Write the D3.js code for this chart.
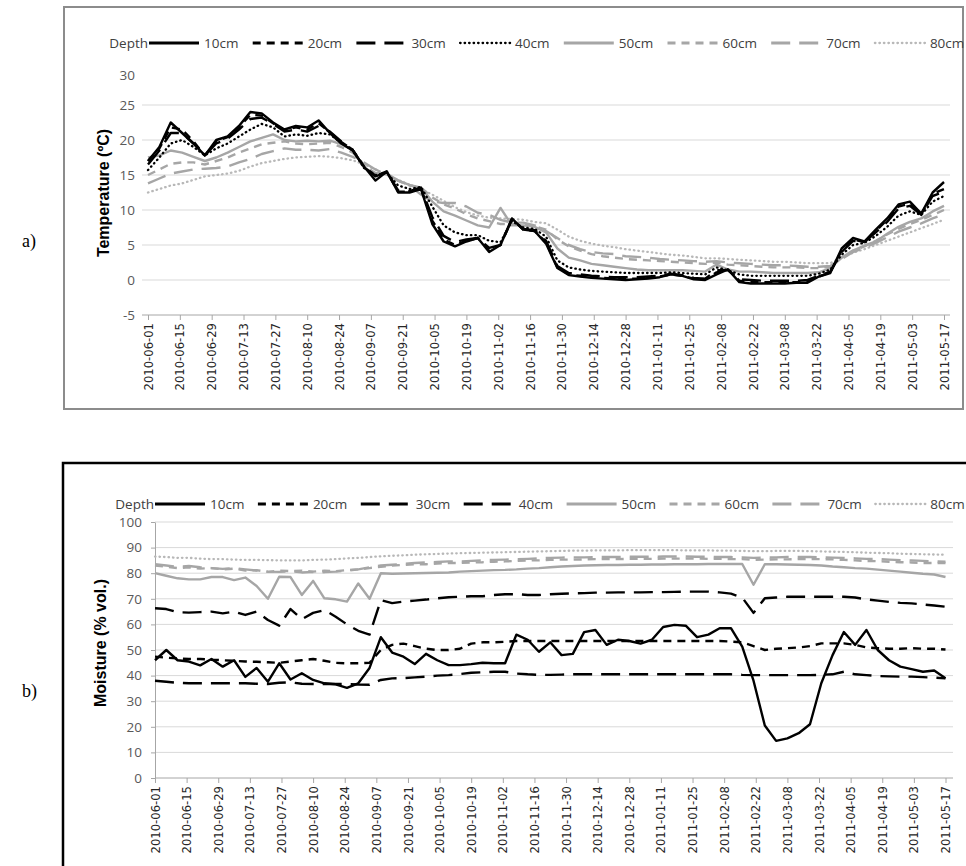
<!DOCTYPE html>
<html>
<head>
<meta charset="utf-8">
<script src="https://cdn.jsdelivr.net/npm/d3@7"></script>
<style>
  body { margin: 0; background: #fff; }
  svg text { font-family: "Open Sans", sans-serif; }
</style>
</head>
<body>
<svg id="chart" width="966" height="866"></svg>
<script>
// Soil temperature and moisture by depth, 2010-06-01 .. 2011-05-17

var parseDate = d3.utcParse("%Y-%m-%d");

// readings sampled every 5 days from 2010-06-01
var sampleStart = parseDate("2010-06-01")
  , sampleCount = 71
  , sampleDates = d3.range(sampleCount).map(function (k) { return d3.utcDay.offset(sampleStart, 5 * k); })
  ;

var depths = ["10cm", "20cm", "30cm", "40cm", "50cm", "60cm", "70cm", "80cm"];

var tickLabels = ["2010-06-01", "2010-06-15", "2010-06-29", "2010-07-13", "2010-07-27", "2010-08-10",
  "2010-08-24", "2010-09-07", "2010-09-21", "2010-10-05", "2010-10-19", "2010-11-02", "2010-11-16",
  "2010-11-30", "2010-12-14", "2010-12-28", "2011-01-11", "2011-01-25", "2011-02-08", "2011-02-22",
  "2011-03-08", "2011-03-22", "2011-04-05", "2011-04-19", "2011-05-03", "2011-05-17"];

var tempTicks = [-5, 0, 5, 10, 15, 20, 25, 30];
var moistTicks = [0, 10, 20, 30, 40, 50, 60, 70, 80, 90, 100];

// Temperature (ºC)
var t10 = [17, 19, 22.5, 21, 19.5, 17.8, 20, 20.5, 22, 24,
  23.8, 22.5, 21.5, 22, 21.8, 22.8, 21, 19.5, 18.5, 16.2,
  14.2, 15.5, 12.5, 12.5, 13, 8, 5.5, 4.8, 5.5, 6,
  4, 5, 8.8, 7.2, 7, 5.2, 1.7, 0.7, 0.5, 0.3,
  0.2, 0.1, 0, 0.1, 0.2, 0.4, 0.8, 0.6, 0.1, 0,
  0.8, 1.5, -0.3, -0.5, -0.5, -0.5, -0.5, -0.4, -0.4, 0.5,
  1, 4.5, 6, 5.5, 7.2, 8.8, 10.8, 11.2, 9.5, 12.5,
  14];
var t20 = [17, 18.8, 21.8, 21.5, 19.8, 17.8, 19.8, 20.4, 21.8, 23.6,
  23.5, 22.4, 21.4, 21.8, 21.5, 22.4, 21.1, 19.7, 18.6, 16.2,
  14.9, 15.5, 12.6, 12.6, 13.1, 8.5, 5.8, 5, 5.6, 6,
  4.3, 5, 8.7, 7.2, 7, 5.4, 1.8, 0.8, 0.6, 0.4,
  0.3, 0.2, 0.2, 0.2, 0.3, 0.5, 0.8, 0.6, 0.2, 0.1,
  1.1, 1.5, -0.1, -0.3, -0.3, -0.3, -0.3, -0.3, -0.2, 0.5,
  1.1, 4.2, 5.8, 5.4, 7, 8.6, 10.5, 10.9, 9.4, 12.3,
  13];
var t30 = [16.5, 18.5, 21, 21, 19.5, 17.8, 19.5, 20.2, 21.5, 23,
  23.2, 22.3, 21.2, 21.5, 21.2, 22, 21.2, 19.8, 18.6, 16.1,
  14.8, 15.4, 12.8, 12.7, 13.2, 9, 6.3, 5.4, 5.8, 6,
  4.6, 5, 8.6, 7.3, 7.1, 5.6, 2, 1, 0.8, 0.6,
  0.5, 0.4, 0.4, 0.4, 0.5, 0.6, 0.9, 0.7, 0.3, 0.2,
  1.4, 1.4, 0.1, 0, -0.1, -0.1, -0.1, -0.1, 0, 0.6,
  1.2, 4, 5.6, 5.4, 6.8, 8.3, 10.2, 10.6, 9.3, 12,
  12.6];
var t40 = [15.7, 17.5, 19.5, 20, 19, 17.8, 18.8, 19.5, 20.5, 21.5,
  22.3, 21.8, 20.5, 20.8, 20.6, 21, 20.8, 19.6, 18.5, 16,
  15, 15.3, 13.5, 13, 13.3, 10.5, 7.8, 6.8, 6.4, 6.4,
  5.6, 5.4, 8.4, 7.5, 7.3, 6.2, 2.8, 1.8, 1.5, 1.3,
  1.2, 1.1, 1, 1, 1, 1, 1.1, 1, 0.9, 0.8,
  1.8, 1.4, 0.8, 0.6, 0.6, 0.6, 0.6, 0.6, 0.6, 0.9,
  1.5, 3.6, 5, 5.3, 6.3, 7.6, 9.2, 9.8, 9.3, 11.2,
  12];
var t50 = [17.5, 17.8, 18.5, 18.2, 17.6, 17, 17.5, 18.2, 19, 19.8,
  20.3, 20.8, 20, 19.8, 19.9, 19.8, 19.9, 19.4, 18.6, 16,
  15.3, 15.2, 14.2, 13.6, 13.2, 11.2, 9.8, 9.2, 8.5, 7.8,
  7.5, 10.3, 7.8, 7.8, 7.6, 6.8, 4.5, 3.2, 2.8, 2.3,
  2.1, 1.9, 1.7, 1.5, 1.4, 1.4, 1.4, 1.4, 1.3, 1.2,
  2.2, 1.5, 1.2, 1.2, 1.1, 1, 1, 1, 1, 1.1,
  1.7, 3.2, 4.2, 4.9, 5.5, 6.6, 7.6, 8.3, 8.8, 9.8,
  10.6];
var t60 = [15, 15.8, 16.6, 16.8, 16.8, 16.5, 17, 17.5, 18.2, 18.8,
  19.4, 19.6, 19.8, 19.5, 19.4, 19.5, 19.6, 19, 18.2, 16.5,
  15.2, 15.1, 14.2, 13.5, 13.2, 11.8, 10.8, 10.2, 9.4, 8.8,
  8.4, 8, 8, 7.9, 7.7, 7.2, 5.8, 4.8, 4.2, 3.7,
  3.4, 3.2, 3, 2.9, 2.8, 2.7, 2.6, 2.5, 2.4, 2.3,
  2.5, 2.2, 2.1, 2, 1.9, 1.8, 1.8, 1.8, 1.7, 1.7,
  1.9, 3.2, 4.2, 4.8, 5.6, 6.5, 7.3, 8, 8.6, 9.3,
  10];
var t70 = [13.8, 14.5, 15.2, 15.5, 15.8, 15.9, 16, 16.2, 16.8, 17.3,
  18, 18.4, 18.8, 18.6, 18.6, 18.5, 18.7, 18.2, 17.6, 16.8,
  15.8, 15, 14.2, 13.5, 12.2, 11.2, 11, 11, 10.5, 9.6,
  9.3, 8.6, 8.2, 8.2, 7.8, 7, 6, 5, 4.4, 4,
  3.8, 3.7, 3.4, 3.3, 3.2, 3, 2.9, 2.8, 2.7, 2.6,
  2.7, 2.5, 2.4, 2.3, 2.2, 2.1, 2.1, 2, 1.9, 1.9,
  2, 3, 4, 4.6, 5.3, 6.1, 6.9, 7.5, 8.1, 8.8,
  9.4];
var t80 = [12.5, 13, 13.5, 13.8, 14.3, 14.8, 15, 15.2, 15.6, 16.2,
  16.7, 17, 17.3, 17.5, 17.6, 17.7, 17.6, 17.4, 17.1, 16.5,
  15.8, 15, 14.3, 13.6, 13, 12.2, 11.3, 10.4, 9.7, 9.2,
  8.9, 8.8, 8.7, 8.6, 8.3, 8.1, 7.2, 6.2, 5.6, 5.2,
  4.9, 4.7, 4.4, 4.2, 4, 3.8, 3.6, 3.5, 3.3, 3.1,
  3.1, 3, 2.9, 2.8, 2.7, 2.6, 2.6, 2.5, 2.4, 2.4,
  2.4, 3.2, 3.9, 4.4, 5, 5.6, 6.2, 6.8, 7.4, 8,
  8.6];

// Moisture (% vol.)
var m10 = [46, 50, 46, 45.5, 44, 46.5, 43.5, 46, 39.5, 43,
  37.6, 44.8, 38.5, 40.9, 38.3, 37, 36.6, 35.2, 37, 43,
  55, 49, 47.4, 44.5, 48.5, 46, 44.1, 44.1, 44.5, 45,
  44.8, 44.8, 56, 54, 49.3, 53, 48, 48.5, 57, 57.8,
  52, 54, 53.5, 52.5, 54, 59, 59.8, 59.5, 55, 56,
  58.5, 58.5, 51.3, 38, 20.5, 14.5, 15.5, 17.5, 21, 37,
  48, 57, 52, 57.8, 50, 46, 43.5, 42.5, 41.5, 42,
  39];
var m20 = [47.4, 47, 46.7, 46.5, 46.5, 46.2, 46, 45.8, 45.5, 45.4,
  45.2, 45, 45.5, 46, 46.5, 45.8, 45, 44.8, 44.8, 45,
  50, 52, 52.5, 51.5, 50.5, 50, 50, 50.5, 52.5, 53,
  53, 53.2, 53.5, 53.5, 53.5, 53.5, 53.5, 53.5, 53.5, 53.5,
  53.5, 53.5, 53.5, 53.5, 53.5, 53.5, 53.5, 53.5, 53.5, 53.5,
  53.5, 53.3, 53, 51.5, 50, 50.5, 50.7, 51, 51.5, 52.6,
  52.6, 52.6, 52, 51, 50.7, 50.5, 50.5, 50.7, 50.5, 50.5,
  50.2];
var m30 = [66.3, 66, 64.8, 64.6, 64.8, 65, 64.3, 65, 63.7, 65,
  61.7, 59.5, 66, 62, 64.5, 65.6, 63, 60, 57.5, 56,
  69.5, 68.3, 68.9, 69.3, 69.7, 70.2, 70.6, 70.8, 71, 71,
  71.5, 71.8, 71.8, 71.5, 71.5, 71.8, 72, 72.1, 72.2, 72.4,
  72.4, 72.5, 72.5, 72.5, 72.6, 72.6, 72.7, 72.8, 72.8, 72.8,
  72.5, 72, 70.5, 64.5, 70.2, 70.5, 70.8, 70.8, 70.8, 70.8,
  70.8, 70.8, 70.5, 69.8, 69.3, 68.8, 68.4, 68.2, 67.8, 67.4,
  66.9];
var m40 = [38, 37.6, 37.2, 37, 37, 37, 37, 37, 37, 36.8,
  36.7, 37.2, 37.4, 36.8, 36.7, 36.7, 36.7, 36.7, 36.5, 36.4,
  38.3, 38.9, 39, 39.3, 39.6, 40, 40.2, 40.6, 41.1, 41.3,
  41.5, 41.5, 40.8, 40.5, 40.3, 40.3, 40.4, 40.5, 40.5, 40.5,
  40.5, 40.5, 40.5, 40.5, 40.5, 40.5, 40.5, 40.5, 40.5, 40.5,
  40.5, 40.5, 40.3, 40.2, 40.2, 40.2, 40.2, 40.2, 40.2, 40.3,
  40.5, 41.5, 40.5, 40.2, 39.8, 39.7, 39.6, 39.6, 39.4, 39.2,
  38.9];
var m50 = [80, 79, 78, 77.6, 77.6, 78.5, 78.5, 77.3, 78.3, 75,
  70, 78.6, 78.5, 71.5, 77, 70.2, 69.8, 68.9, 76, 70,
  80, 79.8, 79.9, 80, 80.1, 80.2, 80.3, 80.6, 80.8, 81,
  81.2, 81.3, 81.5, 81.8, 82, 82.3, 82.6, 82.8, 83, 83.1,
  83.2, 83.2, 83.3, 83.3, 83.4, 83.4, 83.5, 83.5, 83.5, 83.6,
  83.6, 83.6, 83.6, 75.5, 83.5, 83.5, 83.4, 83.3, 83.2, 83,
  82.6, 82.3, 82, 81.8, 81.4, 81, 80.6, 80.2, 79.8, 79.5,
  78.5];
var m60 = [83, 82.5, 82, 82.3, 81.8, 82, 81.5, 81.8, 81, 81.2,
  80.5, 81, 80.8, 81, 80.6, 81, 80.8, 81.2, 81.5, 82,
  82.5, 83, 83.2, 83.5, 83.5, 83.8, 84, 84, 84.2, 84.3,
  84.5, 84.6, 84.8, 85, 85, 85.2, 85.3, 85.3, 85.4, 85.5,
  85.5, 85.5, 85.6, 85.6, 85.6, 85.7, 85.7, 85.7, 85.7, 85.6,
  85.6, 85.5, 85.5, 85.2, 85.3, 85.4, 85.4, 85.5, 85.5, 85.5,
  85.4, 85.2, 85, 84.8, 84.7, 84.5, 84.3, 84.2, 84, 84,
  84];
var m70 = [83.5, 83, 82.5, 82.8, 82.3, 82, 81.7, 82, 81.5, 81,
  80.6, 80.5, 80.8, 80.3, 80.5, 80.4, 80.6, 81, 81.5, 82.3,
  83, 83.3, 83.6, 84, 84.2, 84.4, 84.6, 84.6, 84.8, 85,
  85.2, 85.3, 85.4, 85.6, 85.8, 86, 86.1, 86.2, 86.2, 86.3,
  86.3, 86.3, 86.4, 86.4, 86.4, 86.5, 86.5, 86.5, 86.4, 86.4,
  86.3, 86.3, 86.2, 86, 86.1, 86.2, 86.3, 86.3, 86.3, 86.2,
  86.1, 86, 85.8, 85.6, 85.5, 85.3, 85.1, 85, 84.8, 84.6,
  84.5];
var m80 = [86.5, 86.3, 86, 86, 85.7, 85.5, 85.5, 85.3, 85.2, 85.2,
  85.1, 85, 85, 85, 85.2, 85.3, 85.5, 85.8, 86, 86.3,
  86.6, 86.8, 87, 87.2, 87.4, 87.5, 87.7, 87.8, 87.9, 88,
  88.1, 88.2, 88.3, 88.4, 88.5, 88.6, 88.7, 88.8, 88.8, 88.9,
  88.9, 88.9, 89, 89, 89, 89, 89, 88.9, 88.9, 88.9,
  88.8, 88.8, 88.7, 88.6, 88.6, 88.7, 88.7, 88.7, 88.6, 88.5,
  88.4, 88.3, 88.2, 88, 87.9, 87.8, 87.6, 87.5, 87.4, 87.3,
  87.2];


var black = "#000", grey = "#a6a6a6", paleGrey = "#b8b8b8"
  , solid = null, shortDash = "8,6", longDash = "19,9", dots = "0.5,4"
  ;

var tempStyles = [
  { color: black, dash: solid }, { color: black, dash: shortDash },
  { color: black, dash: longDash }, { color: black, dash: dots },
  { color: grey, dash: solid }, { color: grey, dash: shortDash },
  { color: grey, dash: longDash }, { color: paleGrey, dash: dots }
];
// in the moisture chart 40cm is drawn long-dashed, like 30cm
var moistStyles = tempStyles.slice();
moistStyles[3] = { color: black, dash: longDash };

var svg = d3.select("#chart");


function drawPanel (cfg) {
  var g = svg.append("g");

  var x = d3.scaleUtc()
            .domain([parseDate(tickLabels[0]), parseDate(tickLabels[tickLabels.length - 1])])
            .range(cfg.xTicks);
  var y = d3.scaleLinear().domain(cfg.yDomain).range(cfg.yRange);

  // frame
  g.append("path")
   .attr("d", cfg.frame)
   .attr("fill", "none")
   .attr("stroke", cfg.frameColor)
   .attr("stroke-width", cfg.frameWidth);

  // grid lines
  g.selectAll(".grid")
   .data(cfg.grid)
   .enter().append("line")
   .attr("x1", cfg.left).attr("x2", cfg.right)
   .attr("y1", function (d) { return y(d); })
   .attr("y2", function (d) { return y(d); })
   .attr("stroke", "#d9d9d9");

  // y tick labels
  g.selectAll(".ylab")
   .data(cfg.yTicks)
   .enter().append("text")
   .attr("x", cfg.yLabelX)
   .attr("y", function (d) { return y(d) + cfg.yLabelShift(d); })
   .attr("dy", "0.35em")
   .attr("text-anchor", "end")
   .attr("fill", "#595959")
   .style("font-size", "13.5px")
   .text(function (d) { return d; });

  if (cfg.yAxisLine) {
    var ya = g.append("g")
              .attr("transform", "translate(" + cfg.left + ",0)")
              .call(d3.axisLeft(y).tickValues(cfg.yTicks).tickSize(4).tickSizeOuter(0).tickFormat(""));
    ya.selectAll("path, line").attr("stroke", "#a6a6a6");
  }

  // x axis
  var xa = g.append("g")
            .attr("transform", "translate(0," + cfg.yRange[0] + ")")
            .call(d3.axisBottom(x)
                    .tickValues(tickLabels.map(parseDate))
                    .tickFormat(d3.utcFormat("%Y-%m-%d"))
                    .tickSize(5)
                    .tickSizeOuter(0));
  xa.select(".domain").remove();
  xa.selectAll("line").attr("stroke", "#a6a6a6");
  xa.append("line")
    .attr("x1", cfg.left).attr("x2", cfg.right)
    .attr("stroke", "#a6a6a6");
  xa.selectAll("text")
    .attr("transform", "rotate(-90)")
    .attr("x", -8).attr("y", 0).attr("dy", "0.35em")
    .attr("text-anchor", "end")
    .attr("fill", "#262626")
    .style("font-family", "'DejaVu Sans', sans-serif")
    .style("font-size", "11.6px");

  // series, deepest first so the shallow black lines sit on top
  var line = d3.line()
               .x(function (d, i) { return x(sampleDates[i]); })
               .y(function (d) { return y(d); });

  for (var s = cfg.series.length - 1; s >= 0; s -= 1) {
    var st = cfg.styles[s];
    g.append("path")
     .attr("d", line(cfg.series[s]))
     .attr("fill", "none")
     .attr("stroke", st.color)
     .attr("stroke-width", st.dash === dots ? 2.3 : 2.4)
     .attr("stroke-dasharray", st.dash)
     .attr("stroke-linecap", st.dash === dots ? "round" : "butt")
     .attr("stroke-linejoin", "round");
  }

  // legend
  var lg = g.append("g").attr("transform", "translate(0," + cfg.legendY + ")");
  lg.append("text")
    .attr("x", cfg.legendX - 1).attr("y", 0).attr("dy", "0.35em")
    .attr("text-anchor", "end")
    .attr("fill", "#404040")
    .style("font-size", "13.5px")
    .text("Depth");
  depths.forEach(function (name, i) {
    var lx = cfg.legendX + i * cfg.legendStep, st = cfg.styles[i];
    lg.append("line")
      .attr("x1", lx).attr("x2", lx + 50)
      .attr("stroke", st.color)
      .attr("stroke-width", st.dash === dots ? 2.3 : 3)
      .attr("stroke-dasharray", st.dash)
      .attr("stroke-linecap", st.dash === dots ? "round" : "butt");
    lg.append("text")
      .attr("x", lx + 55).attr("y", 0).attr("dy", "0.35em")
      .attr("fill", "#404040")
      .style("font-size", "13.5px")
      .text(name);
  });

  // axis title
  g.append("text")
   .attr("transform", "translate(" + cfg.titleX + "," + cfg.titleY + ") rotate(-90)")
   .attr("text-anchor", "middle")
   .attr("dy", "0.35em")
   .style("font-family", "'Liberation Sans', Arial, sans-serif")
   .style("font-weight", "bold")
   .style("font-size", "16px")
   .text(cfg.title);

  // panel letter
  g.append("text")
   .attr("x", 22).attr("y", cfg.letterY)
   .style("font-family", "'Liberation Serif', 'Times New Roman', serif")
   .style("font-size", "18px")
   .text(cfg.letter);
}


drawPanel({
  series: [t10, t20, t30, t40, t50, t60, t70, t80],
  styles: tempStyles,
  xTicks: [148, 944], left: 142, right: 950,
  yDomain: [-5, 30], yRange: [315, 70],
  yTicks: tempTicks, grid: [0, 5, 10, 15, 20, 25],
  yLabelX: 135, yLabelShift: function (d) { return d === 30 ? 5 : 0; },
  yAxisLine: false,
  frame: "M64,7H963V409H64Z", frameColor: "#8c8c8c", frameWidth: 2,
  legendX: 149, legendStep: 103.7, legendY: 43,
  title: "Temperature (ºC)", titleX: 103, titleY: 193,
  letter: "a)", letterY: 247
});

drawPanel({
  series: [m10, m20, m30, m40, m50, m60, m70, m80],
  styles: moistStyles,
  xTicks: [155, 945.5], left: 155, right: 953,
  yDomain: [0, 100], yRange: [778, 522],
  yTicks: moistTicks, grid: [10, 20, 30, 40, 50, 60, 70, 80, 90, 100],
  yLabelX: 142, yLabelShift: function () { return 0; },
  yAxisLine: true,
  frame: "M63,870V463H970", frameColor: "#000", frameWidth: 2.5,
  legendX: 155, legendStep: 102.9, legendY: 504,
  title: "Moisture (% vol.)", titleX: 100, titleY: 643,
  letter: "b)", letterY: 697
});
</script>
</body>
</html>
